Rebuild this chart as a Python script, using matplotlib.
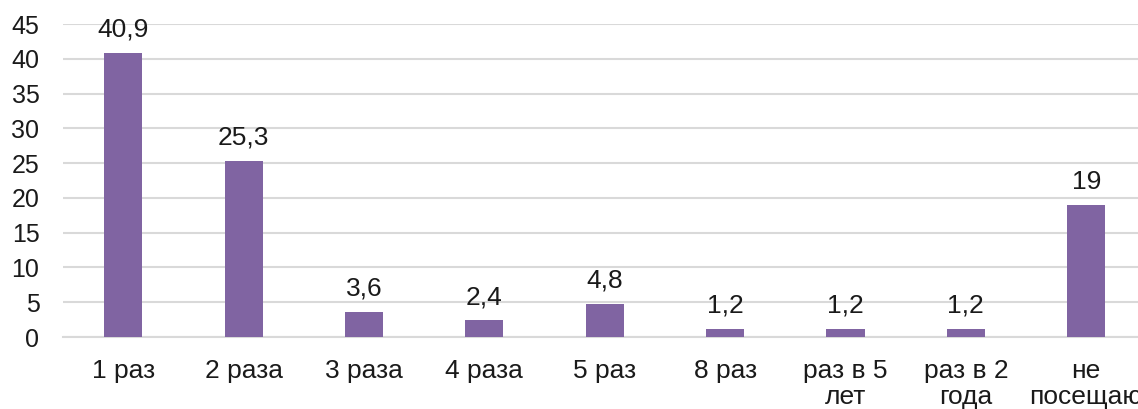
import matplotlib.pyplot as plt

plt.rcParams['font.family'] = ['Liberation Sans', 'DejaVu Sans']

# data
categories = ['1 раз', '2 раза', '3 раза', '4 раза', '5 раз', '8 раз',
              'раз в 5\nлет', 'раз в 2\nгода', 'не\nпосещаю']
values = [40.9, 25.3, 3.6, 2.4, 4.8, 1.2, 1.2, 1.2, 19]
y_ticks = [0, 5, 10, 15, 20, 25, 30, 35, 40, 45]

bar_color = '#8064A2'
grid_color = '#D9D9D9'
text_color = '#1a1a1a'

fig = plt.figure(figsize=(11.38, 4.09), dpi=100)
ax = fig.add_axes([0.0554, 0.176, 0.952, 0.765])

x = range(len(categories))
bars = ax.bar(x, values, width=0.316, color=bar_color, zorder=3)

# comma as decimal separator, whole numbers without decimals
labels = [str(v).replace('.', ',') if v != int(v) else str(int(v)) for v in values]
ax.bar_label(bars, labels=labels, padding=8, fontsize=19, color=text_color)

ax.set_xlim(-0.5, len(categories) - 0.5)
ax.set_ylim(0, 45)
ax.set_yticks(y_ticks)
ax.set_xticks(list(x))
ax.set_xticklabels(categories, linespacing=1.1)

ax.yaxis.grid(True, color=grid_color, linewidth=1.5, zorder=0)
for side in ['top', 'right', 'left']:
    ax.spines[side].set_visible(False)
ax.spines['bottom'].set_color(grid_color)
ax.spines['bottom'].set_linewidth(1.5)

ax.tick_params(axis='y', length=0, pad=17, labelsize=18, colors=text_color)
ax.tick_params(axis='x', length=0, pad=16, labelsize=19, colors=text_color)

fig.savefig('out.png', dpi=100)
